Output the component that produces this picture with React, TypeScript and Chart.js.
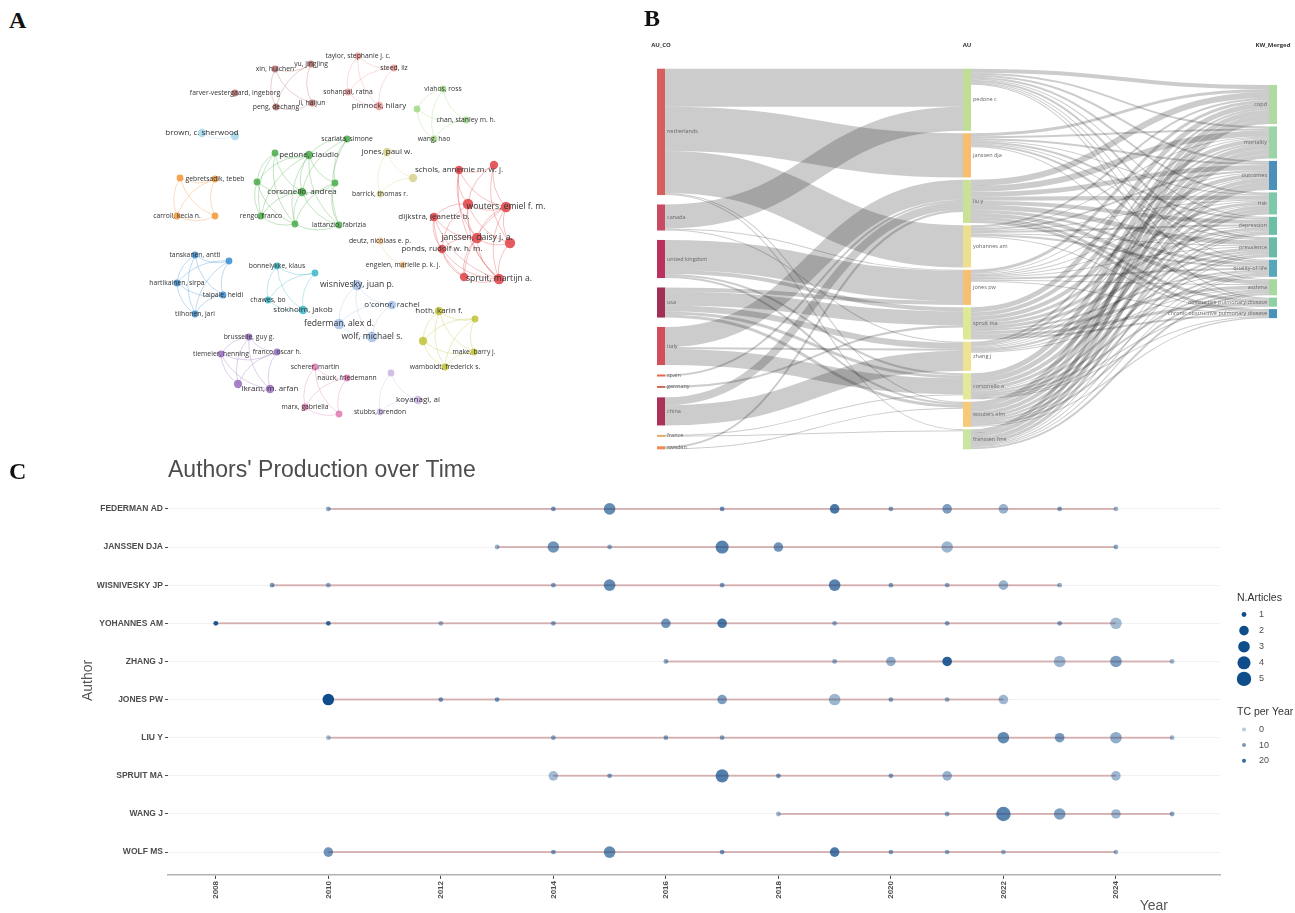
import React, { useEffect, useRef } from "react";
import { Chart, registerables } from "chart.js";

Chart.register(...registerables);

const SANS = '"Liberation Sans", Arial, sans-serif';
const OPEN = '"Open Sans", "Noto Sans", sans-serif';

// ================= Panel A : co-authorship network =================
const netNames = [
  "xin, huichen", "yu, jingjing", "farver-vestergaard, ingeborg", "peng, dechang", "li, haijun",
  "taylor, stephanie j. c.", "steed, liz", "sohanpal, ratna", "pinnock, hilary",
  "vlahos, ross", "", "chan, stanley m. h.", "wang, hao",
  "brown, c. sherwood", "",
  "scarlata, simone", "", "pedone, claudio", "", "corsonello, andrea", "", "rengo, franco", "", "lattanzio, fabrizia",
  "", "gebretsadik, tebeb", "carroll, kecia n.", "",
  "jones, paul w.", "", "barrick, thomas r.",
  "schols, annemie m. w. j.", "", "", "wouters, emiel f. m.", "dijkstra, jeanette b.", "janssen, daisy j. a.", "", "ponds, rudolf w. h. m.", "", "spruit, martijn a.",
  "deutz, nicolaas e. p.", "engelen, marielle p. k. j.",
  "tanskanen, antti", "", "hartikainen, sirpa", "taipale, heidi", "tiihonen, jari",
  "bonnelykke, klaus", "", "chawes, bo", "stokholm, jakob",
  "wisnivesky, juan p.", "o'conor, rachel", "federman, alex d.", "wolf, michael s.",
  "hoth, karin f.", "", "", "make, barry j.", "wamboldt, frederick s.",
  "brusselle, guy g.", "tiemeier, henning", "franco, oscar h.", "", "ikram, m. arfan",
  "scherer, martin", "nauck, friedemann", "marx, gabriella", "",
  "", "koyanagi, ai", "stubbs, brendon",
];
// VOSviewer layout coordinates
const netX = [
  275, 311, 235, 276, 312,
  358, 394, 348, 379,
  443, 417, 466, 434,
  202, 235,
  347, 275, 309, 257, 302, 335, 261, 295, 339,
  180, 215, 177, 215,
  387, 413, 380,
  459, 494, 468, 506, 434, 477, 510, 442, 464, 499,
  380, 403,
  195, 229, 177, 223, 195,
  277, 315, 268, 303,
  357, 392, 339, 372,
  439, 475, 423, 474, 445,
  249, 221, 277, 238, 270,
  315, 347, 305, 339,
  391, 418, 380,
];
const netY = [
  69, 64, 93, 107, 103,
  56, 68, 92, 106,
  89, 109, 120, 139,
  133, 136,
  139, 153, 155, 182, 192, 183, 216, 224, 225,
  178, 179, 216, 216,
  152, 178, 194,
  170, 165, 204, 207, 217, 238, 243, 249, 277, 279,
  241, 265,
  255, 261, 283, 295, 314,
  266, 273, 300, 310,
  285, 305, 324, 337,
  311, 319, 341, 352, 367,
  337, 354, 352, 384, 389,
  367, 378, 407, 414,
  373, 400, 412,
];
const netCluster = [
  0, 0, 0, 0, 0,
  1, 1, 1, 1,
  2, 2, 2, 2,
  3, 3,
  4, 4, 4, 4, 4, 4, 4, 4, 4,
  5, 5, 5, 5,
  6, 6, 6,
  7, 7, 7, 7, 7, 7, 7, 7, 7, 7,
  8, 8,
  9, 9, 9, 9, 9,
  10, 10, 10, 10,
  11, 11, 11, 11,
  12, 12, 12, 12, 12,
  13, 13, 13, 13, 13,
  14, 14, 14, 14,
  15, 15, 15,
];
const netWeight = [
  1, 1, 1, 1, 1,
  1, 1, 1, 2,
  1, 1, 1, 1,
  2, 2,
  1, 1, 2, 1, 2, 1, 1, 1, 1,
  1, 1, 1, 1,
  2, 2, 1,
  2, 2, 3, 3, 2, 3, 3, 2, 2, 3,
  1, 1,
  1, 1, 1, 1, 1,
  1, 1, 1, 2,
  3, 2, 3, 3,
  2, 1, 2, 1, 1,
  1, 1, 1, 2, 2,
  1, 1, 1, 1,
  1, 2, 1,
];
const netEdges = [
  [0, 1], [0, 3], [0, 4], [1, 3], [1, 4], [3, 4],
  [5, 6], [5, 7], [5, 8], [6, 7], [6, 8], [7, 8],
  [9, 10], [9, 11], [9, 12], [10, 11], [10, 12], [11, 12],
  [13, 14],
  [15, 17], [15, 19], [15, 20], [15, 23], [16, 17], [16, 18], [16, 19], [16, 21], [16, 22], [17, 18], [17, 19],
  [17, 20], [17, 21], [17, 22], [17, 23], [18, 19], [18, 21], [18, 22], [19, 20], [19, 21], [19, 22], [19, 23],
  [20, 22], [20, 23], [21, 22], [22, 23],
  [24, 25], [24, 26], [24, 27], [25, 26], [25, 27], [26, 27],
  [28, 29], [28, 30], [29, 30],
  [31, 32], [31, 33], [31, 34], [31, 36], [31, 40], [32, 33], [32, 34], [32, 37], [33, 34], [33, 35], [33, 36],
  [33, 37], [33, 38], [33, 40], [34, 36], [34, 37], [34, 39], [34, 40], [35, 36], [35, 38], [35, 40], [36, 37],
  [36, 38], [36, 39], [36, 40], [37, 40], [38, 39], [38, 40], [39, 40], [35, 39],
  [41, 42],
  [43, 44], [43, 45], [43, 46], [43, 47], [44, 45], [44, 46], [45, 46], [45, 47], [46, 47], [44, 47],
  [48, 49], [48, 50], [48, 51], [49, 51], [50, 51], [49, 50],
  [52, 53], [52, 54], [52, 55], [53, 54], [53, 55], [54, 55],
  [56, 57], [56, 58], [56, 59], [56, 60], [57, 58], [57, 59], [57, 60], [58, 59], [58, 60], [59, 60],
  [61, 62], [61, 63], [61, 64], [61, 65], [62, 63], [62, 64], [62, 65], [63, 64], [63, 65], [64, 65],
  [66, 67], [66, 68], [66, 69], [67, 68], [67, 69], [68, 69],
  [70, 71], [70, 72], [71, 72],
];
const clusterColors = [
  "#b9716f", "#ef9a9a", "#a3d98b", "#a6d7ea", "#4fae4f", "#f29a3a", "#d7d38d", "#e2474b",
  "#f2c38b", "#3f8fd2", "#3cbac8", "#a9c4e8", "#c2c53a", "#9b72c1", "#df7db6", "#cdb6e2",
];
const NODE_R = [0, 3.4, 4.2, 5.2];
const LABEL_SIZE = [0, 6.8, 8, 8.6];

// ================= Panel B : three-field plot =================
const countryNodes = ["netherlands", "canada", "united kingdom", "usa", "italy", "spain", "germany", "china", "france", "sweden"];
const authorNodes = ["pedone c", "janssen dja", "liu y", "yohannes am", "jones pw", "spruit ma", "zhang j", "corsonello a", "wouters efm", "franssen fme"];
const keywordNodes = [
  "copd", "mortality", "outcomes", "risk", "depression", "prevalence", "quality-of-life", "asthma",
  "obstructive pulmonary-disease", "chronic obstructive pulmonary disease",
];
// [country, author, value]
const countryAuthorFlows = [
  [0, 0, 38], [0, 1, 44], [0, 3, 42], [0, 8, 1], [0, 9, 1],
  [1, 0, 24], [1, 4, 1], [1, 6, 1],
  [2, 4, 30], [2, 5, 4], [2, 7, 2], [2, 8, 2],
  [3, 5, 14], [3, 4, 4], [3, 6, 6], [3, 7, 3], [3, 8, 3],
  [4, 2, 20], [4, 7, 16], [4, 6, 2],
  [5, 2, 2],
  [6, 5, 2],
  [7, 6, 20], [7, 2, 8],
  [8, 7, 1], [8, 9, 1],
  [9, 2, 2], [9, 8, 1],
];
// rows: authors, columns: keywords
const authorKeywordMatrix = [
  [4, 2, 2, 2, 1, 2, 1, 1, 1, 0],
  [3, 2, 2, 1, 2, 1, 2, 0, 1, 0],
  [6, 6, 5, 4, 4, 5, 3, 4, 3, 3],
  [2, 1, 2, 1, 2, 1, 2, 0, 0, 1],
  [3, 1, 1, 1, 1, 1, 2, 1, 0, 1],
  [5, 4, 4, 3, 3, 3, 2, 3, 3, 2],
  [2, 2, 1, 1, 1, 2, 1, 1, 0, 0],
  [5, 5, 4, 3, 1, 2, 2, 2, 1, 1],
  [5, 5, 4, 3, 2, 2, 1, 2, 0, 1],
  [4, 4, 4, 3, 1, 1, 1, 2, 0, 0],
];
const countryColors = ["#d65050", "#c43c56", "#b3204e", "#9b1c46", "#cf3f4f", "#e45a3c", "#c85a48", "#a5204a", "#e4a35c", "#f07f44"];
const authorColors = ["#b8db8c", "#f6b863", "#c5df8f", "#ecdc85", "#f5bb66", "#dbe68c", "#efe08a", "#e2e690", "#f6c56e", "#c6e399"];
const keywordColors = ["#a9d79a", "#91d09f", "#3a87b6", "#72c3a1", "#5fbaa0", "#5cb59f", "#46a1b3", "#a0d59a", "#86cb9e", "#3a89b6"];
const fieldTitles = ["AU_CO", "AU", "KW_Merged"];

// ================= Panel C : authors' production over time =================
const authors = ["FEDERMAN AD", "JANSSEN DJA", "WISNIVESKY JP", "YOHANNES AM", "ZHANG J", "JONES PW", "LIU Y", "SPRUIT MA", "WANG J", "WOLF MS"];
const yearTicks = [2008, 2010, 2012, 2014, 2016, 2018, 2020, 2022, 2024];

const federmanYears = [2010, 2014, 2015, 2017, 2019, 2020, 2021, 2022, 2023, 2024];
const federmanArticles = [1, 1, 3, 1, 2, 1, 2, 2, 1, 1];
const federmanTc = [7, 10, 13, 11, 17, 8, 9, 5, 8, 4];

const janssenYears = [2013, 2014, 2015, 2017, 2018, 2021, 2024];
const janssenArticles = [1, 3, 1, 4, 2, 3, 1];
const janssenTc = [5, 11, 6, 15, 11, 4, 6];

const wisniveskyYears = [2009, 2010, 2014, 2015, 2017, 2019, 2020, 2021, 2022, 2023];
const wisniveskyArticles = [1, 1, 1, 3, 1, 3, 1, 1, 2, 1];
const wisniveskyTc = [10, 6, 8, 13, 9, 15, 8, 6, 5, 5];

const yohannesYears = [2008, 2010, 2012, 2014, 2016, 2017, 2019, 2021, 2023, 2024];
const yohannesArticles = [1, 1, 1, 1, 2, 2, 1, 1, 1, 3];
const yohannesTc = [24, 20, 5, 8, 11, 17, 6, 8, 8, 3];

const zhangYears = [2016, 2019, 2020, 2021, 2023, 2024, 2025];
const zhangArticles = [1, 1, 2, 2, 3, 3, 1];
const zhangTc = [8, 6, 6, 22, 4, 9, 4];

const jonesYears = [2010, 2012, 2013, 2017, 2019, 2020, 2021, 2022];
const jonesArticles = [3, 1, 1, 2, 3, 1, 1, 2];
const jonesTc = [26, 11, 10, 9, 4, 8, 6, 4];

const liuYears = [2010, 2014, 2016, 2017, 2022, 2023, 2024, 2025];
const liuArticles = [1, 1, 1, 1, 3, 2, 3, 1];
const liuTc = [3, 7, 8, 8, 13, 10, 6, 4];

const spruitYears = [2014, 2015, 2017, 2018, 2020, 2021, 2024];
const spruitArticles = [2, 1, 4, 1, 1, 2, 2];
const spruitTc = [3, 8, 16, 10, 8, 5, 4];

const wangYears = [2018, 2021, 2022, 2023, 2024, 2025];
const wangArticles = [1, 1, 5, 3, 2, 1];
const wangTc = [4, 7, 15, 9, 4, 7];

const wolfYears = [2010, 2014, 2015, 2017, 2019, 2020, 2021, 2022, 2024];
const wolfArticles = [2, 1, 3, 1, 2, 1, 1, 1, 1];
const wolfTc = [11, 9, 13, 10, 17, 8, 6, 5, 5];

const articleLegend = [1, 2, 3, 4, 5];
const tcLegend = [0, 10, 20];

// ================= helpers =================
function rgba(hex: string, a: number) {
  const n = parseInt(hex.slice(1), 16);
  return `rgba(${(n >> 16) & 255},${(n >> 8) & 255},${n & 255},${a})`;
}

function ChartCanvas({ left, top, width, height, make }: any) {
  const ref = useRef<HTMLCanvasElement>(null);
  useEffect(() => {
    const chart = new Chart(ref.current as HTMLCanvasElement, make());
    return () => chart.destroy();
  }, []);
  return (
    <canvas
      ref={ref}
      width={width}
      height={height}
      style={{ position: "absolute", left, top, width, height }}
    />
  );
}

// ----- Panel A config -----
const netPlugin = {
  id: "netDecor",
  beforeDatasetsDraw(chart: any) {
    const { ctx, scales } = chart;
    const X = (v: number) => scales.x.getPixelForValue(v);
    const Y = (v: number) => scales.y.getPixelForValue(v);
    ctx.save();
    ctx.lineWidth = 0.8;
    netEdges.forEach(([a, b]) => {
      const x1 = X(netX[a]), y1 = Y(netY[a]), x2 = X(netX[b]), y2 = Y(netY[b]);
      const mx = (x1 + x2) / 2, my = (y1 + y2) / 2;
      const dx = x2 - x1, dy = y2 - y1;
      const cx = mx - dy * 0.25, cy = my + dx * 0.25;
      ctx.strokeStyle = rgba(clusterColors[netCluster[a]], 0.42);
      ctx.beginPath();
      ctx.moveTo(x1, y1);
      ctx.quadraticCurveTo(cx, cy, x2, y2);
      ctx.stroke();
    });
    ctx.restore();
  },
  afterDatasetsDraw(chart: any) {
    const { ctx, scales } = chart;
    ctx.save();
    ctx.textAlign = "center";
    ctx.textBaseline = "middle";
    ctx.fillStyle = "#333";
    netNames.forEach((name, i) => {
      if (!name) return;
      ctx.font = `${LABEL_SIZE[netWeight[i]]}px ${OPEN}`;
      ctx.fillText(name, scales.x.getPixelForValue(netX[i]), scales.y.getPixelForValue(netY[i]));
    });
    ctx.restore();
  },
};

const makeNetwork = () => ({
  type: "scatter",
  data: {
    datasets: [
      {
        data: netX.map((x, i) => ({ x, y: netY[i] })),
        pointBackgroundColor: netCluster.map((c) => rgba(clusterColors[c], 0.88)),
        pointRadius: netWeight.map((w) => NODE_R[w]),
        pointHoverRadius: netWeight.map((w) => NODE_R[w]),
        pointBorderWidth: 0,
      },
    ],
  },
  options: {
    responsive: false,
    animation: false,
    devicePixelRatio: 1,
    events: [],
    layout: { padding: 0, autoPadding: false },
    plugins: { legend: { display: false }, tooltip: { enabled: false } },
    scales: {
      x: { type: "linear", display: false, min: 130, max: 560 },
      y: { type: "linear", display: false, min: 40, max: 435, reverse: true },
    },
  },
  plugins: [netPlugin],
});

// ----- Panel B config -----
const PAD = 2.4;
const COL3_ALIGN = 0.11;
const NODE_W = 8;

function sankeyLayout() {
  const cols = [countryNodes, authorNodes, keywordNodes];
  const outs = cols.map((c) => c.map(() => 0));
  const ins = cols.map((c) => c.map(() => 0));
  const links: any[] = [];
  countryAuthorFlows.forEach(([s, t, v]) => {
    outs[0][s] += v; ins[1][t] += v;
    links.push({ col: 0, s, t, v });
  });
  authorKeywordMatrix.forEach((row, s) =>
    row.forEach((v, t) => {
      if (v > 0) {
        outs[1][s] += v; ins[2][t] += v;
        links.push({ col: 1, s, t, v });
      }
    })
  );
  const vals = cols.map((c, ci) => c.map((_, i) => Math.max(outs[ci][i], ins[ci][i])));
  const sum = (a: number[]) => a.reduce((p, q) => p + q, 0);
  const total = sum(vals[1]) + PAD * (vals[1].length - 1);
  const y0s = vals.map((vs, ci) => {
    let gap = PAD;
    let start = 0;
    if (ci === 0) gap = (total - sum(vs)) / (vs.length - 1);
    if (ci === 2) start = COL3_ALIGN * (total - sum(vs) - PAD * (vs.length - 1));
    const ys: number[] = [];
    let y = start;
    vs.forEach((v) => { ys.push(y); y += v + gap; });
    return ys;
  });
  for (let ci = 0; ci < 2; ci++) {
    cols[ci].forEach((_, s) => {
      const ls = links.filter((l) => l.col === ci && l.s === s).sort((a, b) => y0s[ci + 1][a.t] - y0s[ci + 1][b.t]);
      let off = y0s[ci][s];
      ls.forEach((l) => { l.sy = off; off += l.v; });
    });
    cols[ci + 1].forEach((_, t) => {
      const ls = links.filter((l) => l.col === ci && l.t === t).sort((a, b) => y0s[ci][a.s] - y0s[ci][b.s]);
      let off = y0s[ci + 1][t];
      ls.forEach((l) => { l.ty = off; off += l.v; });
    });
  }
  return { cols, vals, y0s, links, total };
}
const SANKEY = sankeyLayout();

const sankeyPlugin = {
  id: "sankeyDraw",
  afterDatasetsDraw(chart: any) {
    const { ctx, scales, chartArea } = chart;
    const X = (c: number) => scales.x.getPixelForValue(c);
    const Y = (v: number) => scales.y.getPixelForValue(v);
    const ky = Math.abs(Y(1) - Y(0));
    ctx.save();
    ctx.strokeStyle = "rgba(0,0,0,0.2)";
    SANKEY.links.forEach((l: any) => {
      const x0 = X(l.col) + NODE_W, x1 = X(l.col + 1);
      const ya = Y(l.sy + l.v / 2), yb = Y(l.ty + l.v / 2);
      const xi = (x0 + x1) / 2;
      ctx.lineWidth = Math.max(1, l.v * ky);
      ctx.beginPath();
      ctx.moveTo(x0, ya);
      ctx.bezierCurveTo(xi, ya, xi, yb, x1, yb);
      ctx.stroke();
    });
    const colColors = [countryColors, authorColors, keywordColors];
    SANKEY.cols.forEach((names: string[], ci: number) => {
      names.forEach((name, i) => {
        const top = Y(SANKEY.y0s[ci][i]);
        const bot = Y(SANKEY.y0s[ci][i] + SANKEY.vals[ci][i]);
        ctx.fillStyle = rgba(colColors[ci][i], 0.92);
        ctx.fillRect(X(ci), top, NODE_W, Math.max(1.5, bot - top));
        ctx.fillStyle = "#666";
        ctx.font = `5.5px ${OPEN}`;
        ctx.textBaseline = "middle";
        if (ci < 2) {
          ctx.textAlign = "left";
          ctx.fillText(name, X(ci) + NODE_W + 2, (top + bot) / 2);
        } else {
          ctx.textAlign = "right";
          ctx.fillText(name, X(ci) - 2, (top + bot) / 2);
        }
      });
    });
    ctx.fillStyle = "#333";
    ctx.font = `bold 6px ${OPEN}`;
    ctx.textAlign = "center";
    ctx.textBaseline = "middle";
    fieldTitles.forEach((t, ci) => ctx.fillText(t, X(ci) + NODE_W / 2, chartArea.top - 23));
    ctx.restore();
  },
};

const makeSankey = () => ({
  type: "scatter",
  data: { datasets: [{ data: [] }] },
  options: {
    responsive: false,
    animation: false,
    devicePixelRatio: 1,
    events: [],
    layout: { padding: { top: 38.7, bottom: 10.7, left: 17, right: 26 }, autoPadding: false },
    plugins: { legend: { display: false }, tooltip: { enabled: false } },
    scales: {
      x: { type: "linear", display: false, min: 0, max: 2 },
      y: { type: "linear", display: false, min: 0, max: SANKEY.total, reverse: true },
    },
  },
  plugins: [sankeyPlugin],
});

// ----- Panel C config -----
const authorSeries = [
  { years: federmanYears, n: federmanArticles, tc: federmanTc },
  { years: janssenYears, n: janssenArticles, tc: janssenTc },
  { years: wisniveskyYears, n: wisniveskyArticles, tc: wisniveskyTc },
  { years: yohannesYears, n: yohannesArticles, tc: yohannesTc },
  { years: zhangYears, n: zhangArticles, tc: zhangTc },
  { years: jonesYears, n: jonesArticles, tc: jonesTc },
  { years: liuYears, n: liuArticles, tc: liuTc },
  { years: spruitYears, n: spruitArticles, tc: spruitTc },
  { years: wangYears, n: wangArticles, tc: wangTc },
  { years: wolfYears, n: wolfArticles, tc: wolfTc },
];
const maxN = 5;
const tcMax = Math.max(...authorSeries.flatMap((s) => s.tc));
const sizeR = (n: number) => 1.2 * (2 + 4 * Math.sqrt((n - 1) / (maxN - 1)));
const alphaOf = (tc: number) => 0.3 + 0.7 * Math.min(1, tc / tcMax);
const BLUE = "16,78,139";

const prodPlugin = {
  id: "prodDecor",
  afterDraw(chart: any) {
    const { ctx, chartArea } = chart;
    ctx.save();
    ctx.fillStyle = "#4d4d4d";
    ctx.textBaseline = "alphabetic";
    ctx.textAlign = "left";
    ctx.font = `23px ${SANS}`;
    ctx.fillText("Authors' Production over Time", chartArea.left, chartArea.top - 9);
    ctx.font = `14px ${SANS}`;
    ctx.fillStyle = "#555";
    ctx.textAlign = "right";
    ctx.fillText("Year", chartArea.right - 52, chart.height - 3);
    ctx.save();
    ctx.translate(88, (chartArea.top + chartArea.bottom) / 2);
    ctx.rotate(-Math.PI / 2);
    ctx.textAlign = "center";
    ctx.textBaseline = "middle";
    ctx.fillText("Author", 0, 0);
    ctx.restore();

    const lx = chartArea.right + 17;
    ctx.textAlign = "left";
    ctx.textBaseline = "middle";
    ctx.fillStyle = "#333";
    ctx.font = `10.5px ${SANS}`;
    ctx.fillText("N.Articles", lx, chartArea.top + 112);
    ctx.font = `9px ${SANS}`;
    articleLegend.forEach((n, k) => {
      const cy = chartArea.top + 128.5 + k * 16.1;
      ctx.fillStyle = `rgb(${BLUE})`;
      ctx.beginPath();
      ctx.arc(lx + 7, cy, sizeR(n), 0, Math.PI * 2);
      ctx.fill();
      ctx.fillStyle = "#4d4d4d";
      ctx.fillText(String(n), lx + 22, cy);
    });
    ctx.fillStyle = "#333";
    ctx.font = `10.5px ${SANS}`;
    ctx.fillText("TC per Year", lx, chartArea.top + 226.5);
    ctx.font = `9px ${SANS}`;
    tcLegend.forEach((tc, k) => {
      const cy = chartArea.top + 243.5 + k * 15.6;
      ctx.fillStyle = `rgba(${BLUE},${alphaOf(tc)})`;
      ctx.beginPath();
      ctx.arc(lx + 7, cy, 2, 0, Math.PI * 2);
      ctx.fill();
      ctx.fillStyle = "#4d4d4d";
      ctx.fillText(String(tc), lx + 22, cy);
    });
    ctx.restore();
  },
};

const makeProduction = () => {
  const points: any[] = [];
  authorSeries.forEach((s, i) =>
    s.years.forEach((yr, k) => points.push({ x: yr, y: i, r: sizeR(s.n[k]), tc: s.tc[k] }))
  );
  const lines = authorSeries.map((s, i) => ({
    type: "line",
    data: [
      { x: Math.min(...s.years), y: i },
      { x: Math.max(...s.years), y: i },
    ],
    borderColor: "rgba(139,26,26,0.3)",
    borderWidth: 2,
    pointRadius: 0,
    pointHoverRadius: 0,
    order: 2,
  }));
  return {
    type: "bubble",
    data: {
      datasets: [
        {
          data: points,
          order: 1,
          borderWidth: 0,
          backgroundColor: (c: any) => (c.raw ? `rgba(${BLUE},${alphaOf(c.raw.tc)})` : `rgb(${BLUE})`),
        },
        ...lines,
      ],
    },
    options: {
      responsive: false,
      animation: false,
      devicePixelRatio: 1,
      events: [],
      layout: { padding: { top: 46, right: 75, left: 0, bottom: 0 }, autoPadding: false },
      plugins: { legend: { display: false }, tooltip: { enabled: false } },
      scales: {
        x: {
          type: "linear",
          min: 2007.15,
          max: 2025.85,
          afterBuildTicks: (s: any) => { s.ticks = yearTicks.map((v) => ({ value: v })); },
          afterFit: (s: any) => { s.height = 38; },
          ticks: {
            autoSkip: false,
            minRotation: 90,
            maxRotation: 90,
            padding: 2,
            color: "#4d4d4d",
            font: { family: SANS, size: 8, weight: "bold" },
            callback: (v: any) => String(v),
          },
          grid: { drawOnChartArea: false, drawTicks: true, tickLength: 4, tickColor: "#4d4d4d" },
          border: { display: true, color: "#b3b3b3", width: 1.6 },
        },
        y: {
          type: "linear",
          min: -0.6,
          max: authors.length - 0.4,
          reverse: true,
          afterBuildTicks: (s: any) => { s.ticks = authors.map((_, i) => ({ value: i })); },
          afterFit: (s: any) => { s.width = 168; },
          ticks: {
            padding: 2,
            color: "#4d4d4d",
            font: { family: SANS, size: 8.5, weight: "bold" },
            callback: (v: any) => authors[v] ?? "",
          },
          grid: { color: "#f1f1f1", lineWidth: 1, drawTicks: true, tickLength: 3, tickColor: "#4d4d4d" },
          border: { display: false },
        },
      },
    },
    plugins: [prodPlugin],
  };
};

const panelLabel = (left: number, top: number): any => ({
  position: "absolute",
  left,
  top,
  font: 'bold 24px "Liberation Serif", "Times New Roman", serif',
  lineHeight: 1,
  color: "#111",
});

export default function App() {
  return (
    <div style={{ position: "absolute", left: 0, top: 0, width: 1295, height: 913, background: "#fff", overflow: "hidden" }}>
      <ChartCanvas left={130} top={40} width={430} height={395} make={makeNetwork} />
      <ChartCanvas left={640} top={30} width={655} height={430} make={makeSankey} />
      <ChartCanvas left={0} top={440} width={1295} height={473} make={makeProduction} />
      <div style={panelLabel(9, 8)}>A</div>
      <div style={panelLabel(644, 6)}>B</div>
      <div style={panelLabel(9, 459)}>C</div>
    </div>
  );
}
